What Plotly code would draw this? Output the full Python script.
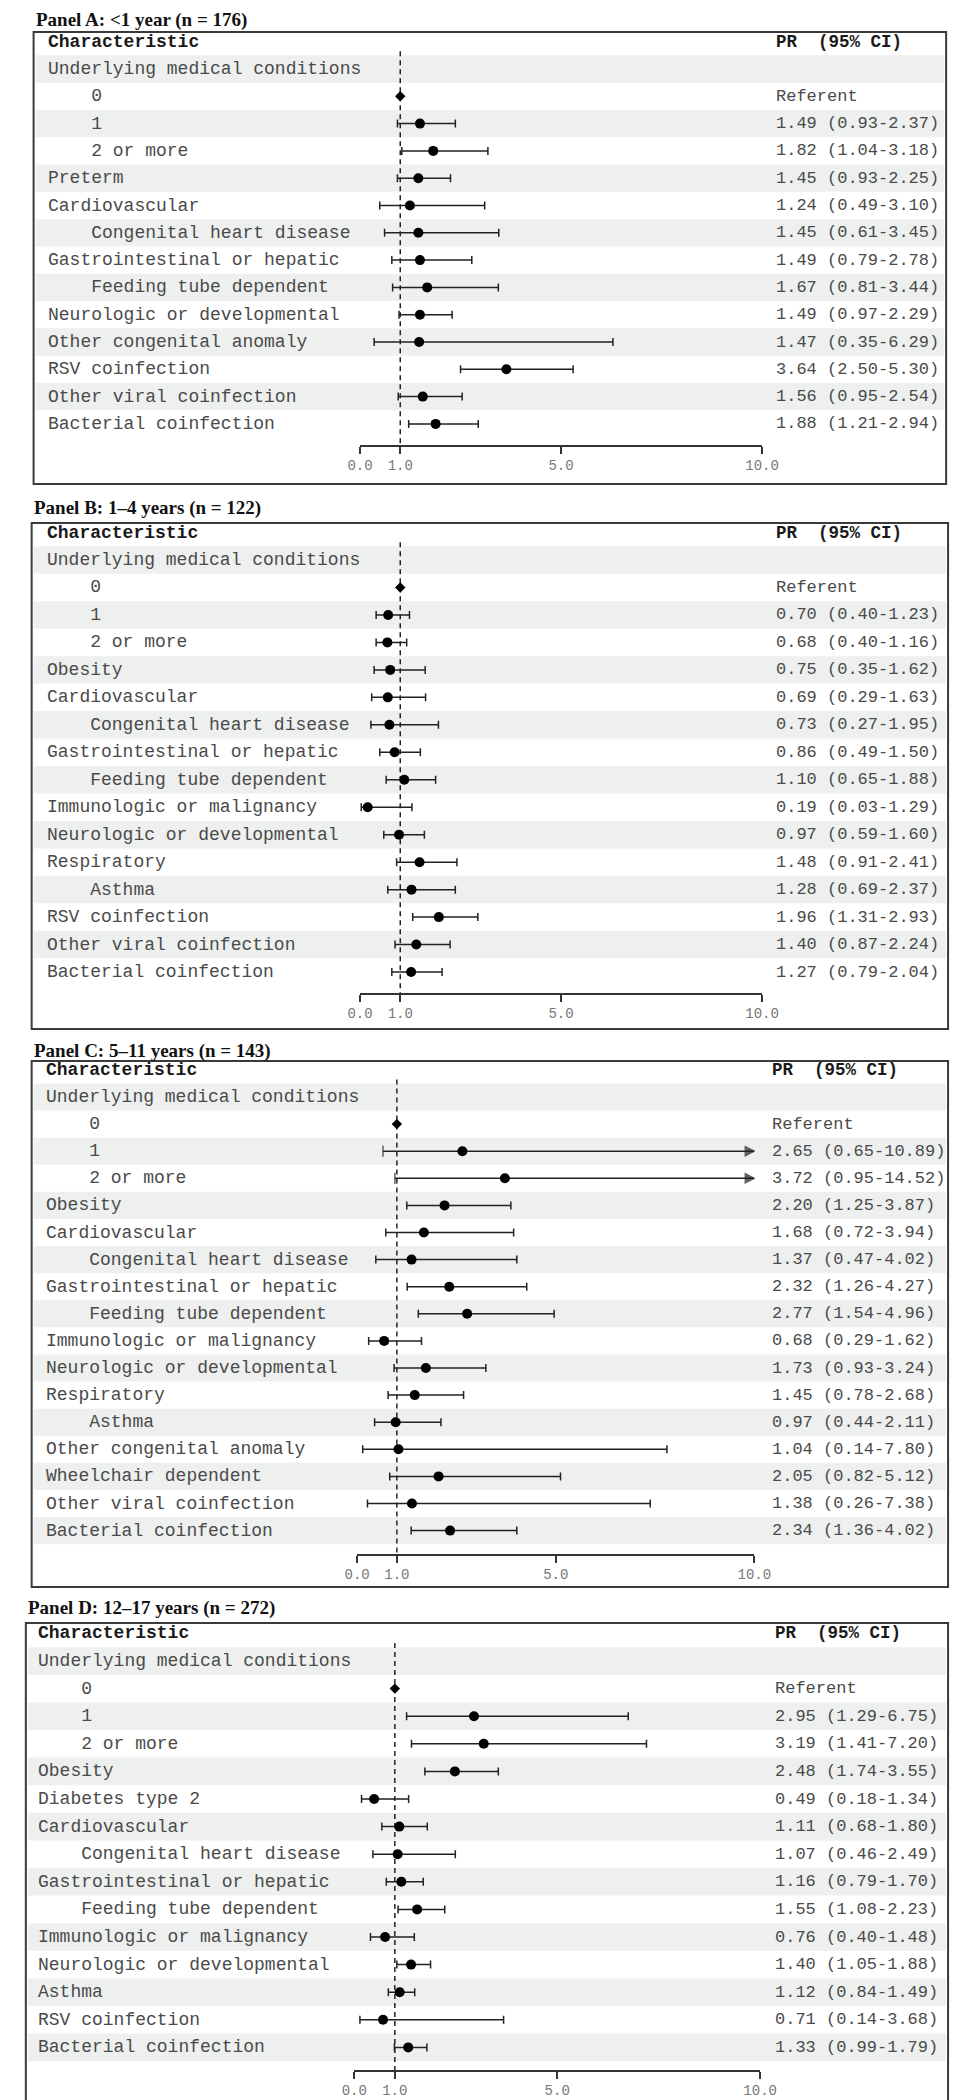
import plotly.graph_objects as go

W, H = 959, 2100
XMAX = 10.0

# ---------------- DATA ----------------
panel_titles = [
    "Panel A: <1 year (n = 176)",
    "Panel B: 1\u20134 years (n = 122)",
    "Panel C: 5\u201311 years (n = 143)",
    "Panel D: 12\u201317 years (n = 272)",
]

a_labels = ["Underlying medical conditions", "0", "1", "2 or more", "Preterm", "Cardiovascular",
            "Congenital heart disease", "Gastrointestinal or hepatic", "Feeding tube dependent",
            "Neurologic or developmental", "Other congenital anomaly", "RSV coinfection",
            "Other viral coinfection", "Bacterial coinfection"]
a_indent = [0, 1, 1, 1, 0, 0, 1, 0, 1, 0, 0, 0, 0, 0]
a_pr = [None, 1.00, 1.49, 1.82, 1.45, 1.24, 1.45, 1.49, 1.67, 1.49, 1.47, 3.64, 1.56, 1.88]
a_lo = [None, None, 0.93, 1.04, 0.93, 0.49, 0.61, 0.79, 0.81, 0.97, 0.35, 2.50, 0.95, 1.21]
a_hi = [None, None, 2.37, 3.18, 2.25, 3.10, 3.45, 2.78, 3.44, 2.29, 6.29, 5.30, 2.54, 2.94]

b_labels = ["Underlying medical conditions", "0", "1", "2 or more", "Obesity", "Cardiovascular",
            "Congenital heart disease", "Gastrointestinal or hepatic", "Feeding tube dependent",
            "Immunologic or malignancy", "Neurologic or developmental", "Respiratory", "Asthma",
            "RSV coinfection", "Other viral coinfection", "Bacterial coinfection"]
b_indent = [0, 1, 1, 1, 0, 0, 1, 0, 1, 0, 0, 0, 1, 0, 0, 0]
b_pr = [None, 1.00, 0.70, 0.68, 0.75, 0.69, 0.73, 0.86, 1.10, 0.19, 0.97, 1.48, 1.28, 1.96, 1.40, 1.27]
b_lo = [None, None, 0.40, 0.40, 0.35, 0.29, 0.27, 0.49, 0.65, 0.03, 0.59, 0.91, 0.69, 1.31, 0.87, 0.79]
b_hi = [None, None, 1.23, 1.16, 1.62, 1.63, 1.95, 1.50, 1.88, 1.29, 1.60, 2.41, 2.37, 2.93, 2.24, 2.04]

c_labels = ["Underlying medical conditions", "0", "1", "2 or more", "Obesity", "Cardiovascular",
            "Congenital heart disease", "Gastrointestinal or hepatic", "Feeding tube dependent",
            "Immunologic or malignancy", "Neurologic or developmental", "Respiratory", "Asthma",
            "Other congenital anomaly", "Wheelchair dependent", "Other viral coinfection",
            "Bacterial coinfection"]
c_indent = [0, 1, 1, 1, 0, 0, 1, 0, 1, 0, 0, 0, 1, 0, 0, 0, 0]
c_pr = [None, 1.00, 2.65, 3.72, 2.20, 1.68, 1.37, 2.32, 2.77, 0.68, 1.73, 1.45, 0.97, 1.04, 2.05, 1.38, 2.34]
c_lo = [None, None, 0.65, 0.95, 1.25, 0.72, 0.47, 1.26, 1.54, 0.29, 0.93, 0.78, 0.44, 0.14, 0.82, 0.26, 1.36]
c_hi = [None, None, 10.89, 14.52, 3.87, 3.94, 4.02, 4.27, 4.96, 1.62, 3.24, 2.68, 2.11, 7.80, 5.12, 7.38, 4.02]

d_labels = ["Underlying medical conditions", "0", "1", "2 or more", "Obesity", "Diabetes type 2",
            "Cardiovascular", "Congenital heart disease", "Gastrointestinal or hepatic",
            "Feeding tube dependent", "Immunologic or malignancy", "Neurologic or developmental",
            "Asthma", "RSV coinfection", "Bacterial coinfection"]
d_indent = [0, 1, 1, 1, 0, 0, 0, 1, 0, 1, 0, 0, 0, 0, 0]
d_pr = [None, 1.00, 2.95, 3.19, 2.48, 0.49, 1.11, 1.07, 1.16, 1.55, 0.76, 1.40, 1.12, 0.71, 1.33]
d_lo = [None, None, 1.29, 1.41, 1.74, 0.18, 0.68, 0.46, 0.79, 1.08, 0.40, 1.05, 0.84, 0.14, 0.99]
d_hi = [None, None, 6.75, 7.20, 3.55, 1.34, 1.80, 2.49, 1.70, 2.23, 1.48, 1.88, 1.49, 3.68, 1.79]

tick_vals = [0, 1, 5, 10]
tick_text = ["0.0", "1.0", "5.0", "10.0"]
header_left = "Characteristic"
header_right = "PR\u00a0\u00a0(95%\u00a0CI)"
referent_text = "Referent"

panels = [
    (a_labels, a_indent, a_pr, a_lo, a_hi),
    (b_labels, b_indent, b_pr, b_lo, b_hi),
    (c_labels, c_indent, c_pr, c_lo, c_hi),
    (d_labels, d_indent, d_pr, d_lo, d_hi),
]

# ---------------- LAYOUT GEOMETRY (pixels) ----------------
geom = [
    dict(title_y=12, box=(13, 24, 955, 476), U=61, pitch=27.3, axis=437, text_x=27, val_x=778, x0=350, x10=765),
    dict(title_y=500, box=(11, 515, 957, 1021), U=552, pitch=27.47, axis=985, text_x=26, val_x=778, x0=350, x10=765),
    dict(title_y=1043, box=(11, 1053, 957, 1579), U=1089, pitch=27.1, axis=1546, text_x=25, val_x=774, x0=347, x10=757),
    dict(title_y=1600, box=(5, 1615, 957, 2097), U=1653, pitch=27.6, axis=2062, text_x=17, val_x=777, x0=344, x10=763),
]

MONO = "Courier New, Liberation Mono, monospace"
SERIF = "Times New Roman, Liberation Serif, serif"
TXT = "#4a4a4a"
BAND = "#EDF0EE"

fig = go.Figure()
shapes = []
annotations = []
layout_axes = {}

for k, ((labels, indent, pr, lo, hi), g) in enumerate(zip(panels, geom), start=1):
    xs = "" if k == 1 else str(k)
    xref, yref = "x" + xs, "y" + xs
    U, p = g["U"], g["pitch"]
    T = g["box"][1] + 3
    B = g["axis"]
    vT = (T - U) / p
    vB = (B - U) / p

    layout_axes["xaxis" + xs] = dict(
        domain=[g["x0"] / W, g["x10"] / W], range=[0, XMAX], anchor=yref,
        showline=True, linecolor="#333333", linewidth=1.5,
        ticks="outside", ticklen=7, tickwidth=1.5, tickcolor="#333333",
        tickvals=tick_vals, ticktext=tick_text, ticklabelstandoff=-1,
        tickfont=dict(family=MONO, size=14, color="#777777"),
        showgrid=False, zeroline=False, fixedrange=True,
    )
    layout_axes["yaxis" + xs] = dict(
        domain=[(H - B) / H, (H - T) / H], range=[vB, vT], anchor=xref,
        visible=False, showgrid=False, zeroline=False, fixedrange=True,
    )

    bl, bt, br, bb = g["box"]
    # alternating row bands
    for i in range(len(labels)):
        if i % 2 == 0:
            shapes.append(dict(type="rect", xref="paper", yref=yref,
                               x0=(bl + 2) / W, x1=(br - 2) / W, y0=i - 0.5, y1=i + 0.5,
                               fillcolor=BAND, line=dict(width=0), layer="below"))
    # reference line at 1
    shapes.append(dict(type="line", xref=xref, yref=yref, x0=1, x1=1, y0=-0.65, y1=vB,
                       line=dict(color="#222222", width=1.5, dash="5px,4px"), layer="below"))
    # panel box
    shapes.append(dict(type="rect", xref="paper", yref="paper",
                       x0=bl / W, x1=br / W, y0=(H - bb) / H, y1=(H - bt) / H,
                       line=dict(color="#3a3a3a", width=2), fillcolor="rgba(0,0,0,0)", layer="above"))

    # title
    annotations.append(dict(text="<b>" + panel_titles[k - 1] + "</b>", xref="paper", yref="paper",
                            x=(bl + 1) / W, y=(H - g["title_y"]) / H, xanchor="left", yanchor="middle",
                            showarrow=False, font=dict(family=SERIF, size=19, color="#111111"),
                            borderpad=0))
    # headers
    annotations.append(dict(text="<b>" + header_left + "</b>", xref="paper", yref=yref,
                            x=g["text_x"] / W, y=-1, xanchor="left", yanchor="middle", showarrow=False,
                            font=dict(family=MONO, size=18, color="#1a1a1a"), borderpad=0))
    annotations.append(dict(text="<b>" + header_right + "</b>", xref="paper", yref=yref,
                            x=g["val_x"] / W, y=-1, xanchor="left", yanchor="middle", showarrow=False,
                            font=dict(family=MONO, size=17.5, color="#1a1a1a"), borderpad=0))
    # row labels and values
    for i, lab in enumerate(labels):
        annotations.append(dict(text="\u00a0" * (4 * indent[i]) + lab, xref="paper", yref=yref,
                                x=g["text_x"] / W, y=i, xanchor="left", yanchor="middle", showarrow=False,
                                font=dict(family=MONO, size=18, color=TXT), borderpad=0))
        if pr[i] is None:
            continue
        if lo[i] is None:
            vtxt = referent_text
        else:
            vtxt = f"{pr[i]:.2f}\u00a0({lo[i]:.2f}-{hi[i]:.2f})"
        annotations.append(dict(text=vtxt, xref="paper", yref=yref,
                                x=g["val_x"] / W, y=i, xanchor="left", yanchor="middle", showarrow=False,
                                font=dict(family=MONO, size=17, color=TXT), borderpad=0))

    # normal CI rows
    ix = [i for i in range(len(labels)) if pr[i] is not None and lo[i] is not None and hi[i] <= XMAX]
    fig.add_trace(go.Scatter(
        x=[pr[i] for i in ix], y=ix, mode="markers", xaxis=xref, yaxis=yref,
        marker=dict(symbol="circle", size=10, color="black"),
        error_x=dict(type="data", symmetric=False,
                     array=[hi[i] - pr[i] for i in ix], arrayminus=[pr[i] - lo[i] for i in ix],
                     color="#222222", thickness=1.5, width=4),
        cliponaxis=False, showlegend=False, hoverinfo="skip"))
    # truncated CI rows (arrow)
    ax_rows = [i for i in range(len(labels)) if pr[i] is not None and lo[i] is not None and hi[i] > XMAX]
    for i in ax_rows:
        fig.add_trace(go.Scatter(
            x=[lo[i], min(hi[i], XMAX)], y=[i, i], mode="lines+markers", xaxis=xref, yaxis=yref,
            line=dict(color="#222222", width=1.5),
            marker=dict(symbol=["line-ns-open", "arrow-right"], size=[8, 9], color="#222222",
                        line=dict(color="#222222", width=1.5)),
            cliponaxis=False, showlegend=False, hoverinfo="skip"))
    if ax_rows:
        fig.add_trace(go.Scatter(
            x=[pr[i] for i in ax_rows], y=ax_rows, mode="markers", xaxis=xref, yaxis=yref,
            marker=dict(symbol="circle", size=10, color="black"),
            cliponaxis=False, showlegend=False, hoverinfo="skip"))
    # referent rows
    rf = [i for i in range(len(labels)) if pr[i] is not None and lo[i] is None]
    fig.add_trace(go.Scatter(
        x=[pr[i] for i in rf], y=rf, mode="markers", xaxis=xref, yaxis=yref,
        marker=dict(symbol="diamond", size=8, color="black"),
        cliponaxis=False, showlegend=False, hoverinfo="skip"))

fig.update_layout(
    width=W, height=H, margin=dict(l=0, r=0, t=0, b=0),
    paper_bgcolor="white", plot_bgcolor="rgba(0,0,0,0)",
    shapes=shapes, annotations=annotations, showlegend=False,
    **layout_axes,
)

fig.write_html("out.html")
